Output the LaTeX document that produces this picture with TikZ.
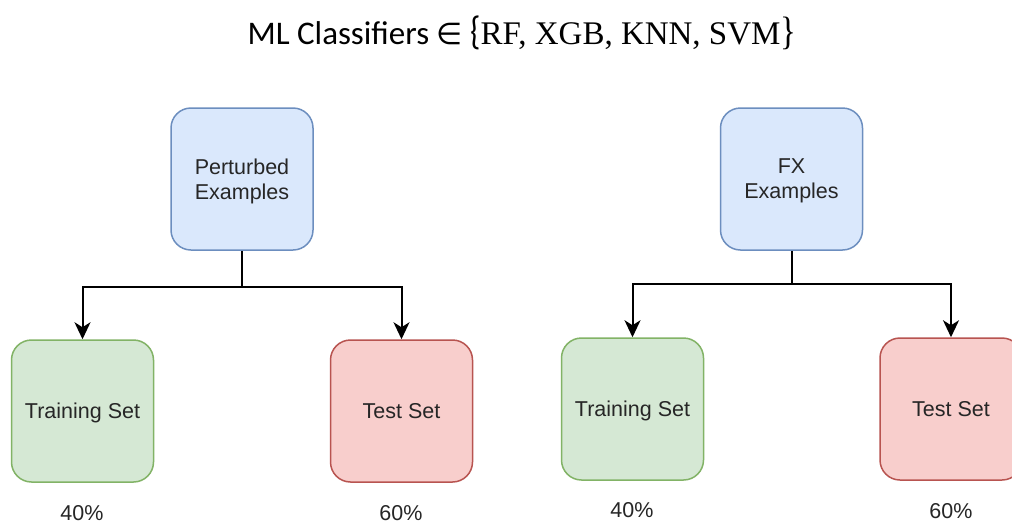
\documentclass[tikz,border=0pt]{standalone}
\usepackage{fontspec}
\usepackage{graphicx}
\setmainfont{Liberation Sans}
\newfontfamily\titlefont{Carlito}
\newfontfamily\setfont{Liberation Serif}
\newfontfamily\symfont{DejaVu Sans}
\usetikzlibrary{arrows.meta}
\definecolor{bluefill}{HTML}{DAE8FC}
\definecolor{bluedraw}{HTML}{6C8EBF}
\definecolor{greenfill}{HTML}{D5E8D4}
\definecolor{greendraw}{HTML}{82B366}
\definecolor{redfill}{HTML}{F8CECC}
\definecolor{reddraw}{HTML}{B85450}
\tikzset{
  box/.style={rectangle, rounded corners=20pt, minimum width=142pt, minimum height=142pt,
    line width=1.5pt, align=center, font=\fontsize{21.5}{25}\selectfont, text=black!85,
    text depth=0pt},
  bluebox/.style={box, fill=bluefill, draw=bluedraw},
  greenbox/.style={box, fill=greenfill, draw=greendraw},
  redbox/.style={box, fill=redfill, draw=reddraw},
  conn/.style={line width=2pt, black},
  arr/.style={conn, -{Stealth[length=17pt,width=16pt,inset=5pt]}},
  pct/.style={font=\fontsize{21.5}{25}\selectfont, text=black!85},
}
\begin{document}
\begin{tikzpicture}[x=1pt,y=-1pt]
\useasboundingbox (0,0) rectangle (1012,523);
\clip (0,0) rectangle (1012,523);
\fill[white] (0,0) rectangle (1012,523);
\node[font=\fontsize{33}{40}\selectfont, inner sep=0pt] (title) at (522,33)
  {\titlefont ML Classifiers {\symfont\fontsize{30}{36}\selectfont ∈} \scalebox{1}[1.2]{\{}\setfont RF, XGB, KNN, SVM\scalebox{1}[1.2]{\}}};
% left group
\node[bluebox] (pL) at (242,179) {Perturbed\\Examples};
\node[greenbox] (trL) at (82.5,411) {Training Set};
\node[redbox] (teL) at (401.5,411) {Test Set};
\node[pct] (trLp) at (82,513) {40\%};
\node[pct] (teLp) at (401,513) {60\%};
\coordinate (jL) at (242,287);
\draw[conn] (pL.south) -- (jL);
\draw[arr] (jL) -| (trL.north);
\draw[arr] (jL) -| (teL.north);
% right group
\node[bluebox] (pR) at (791.5,179) {FX\\Examples};
\node[greenbox] (trR) at (632.5,409) {Training Set};
\node[redbox] (teR) at (951,409) {Test Set};
\node[pct] (trRp) at (632,510) {40\%};
\node[pct] (teRp) at (951,511) {60\%};
\coordinate (jR) at (791.5,284);
\draw[conn] (pR.south) -- (jR);
\draw[arr] (jR) -| (trR.north);
\draw[arr] (jR) -| (teR.north);
\end{tikzpicture}
\end{document}
